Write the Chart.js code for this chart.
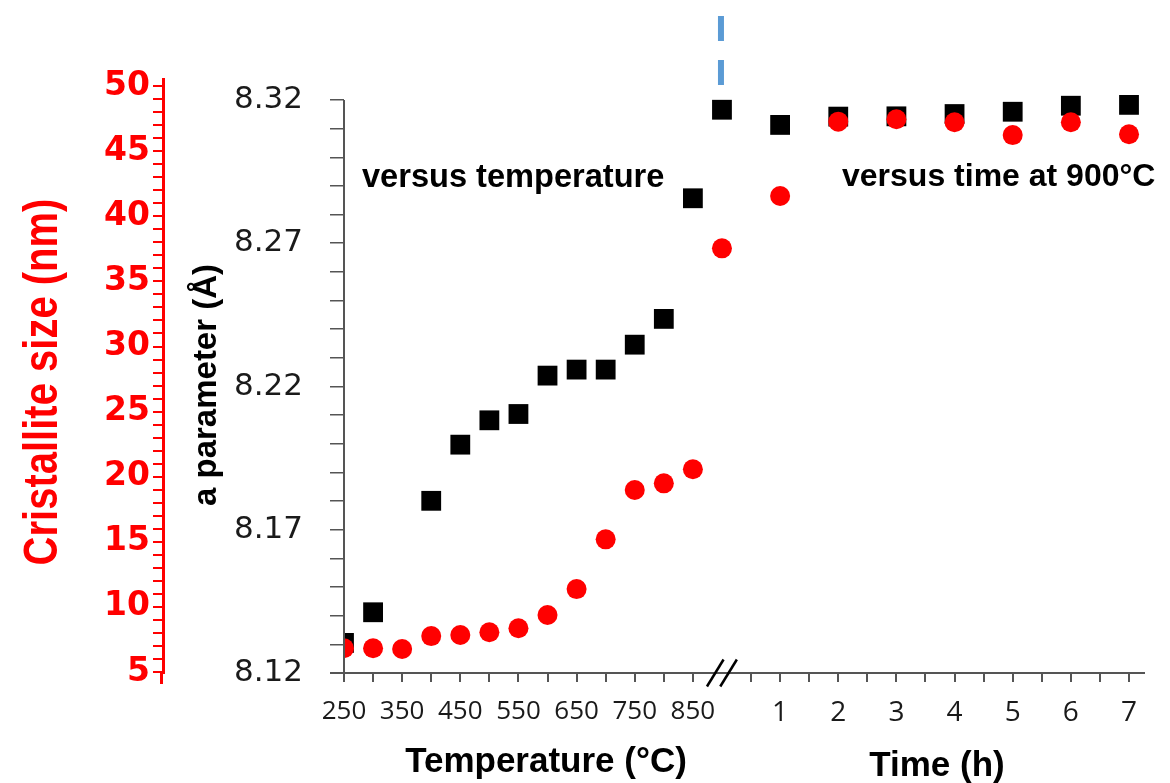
<!DOCTYPE html>
<html><head><meta charset="utf-8">
<script src="https://cdn.jsdelivr.net/npm/chart.js@4.4.0/dist/chart.umd.min.js"></script>
<style>html,body{margin:0;padding:0;background:#fff;}canvas{display:block;}</style>
</head><body>
<canvas id="c" width="1170" height="783"></canvas>
<script>
// ---- data ----
const temperatures   = [250, 300, 350, 400, 450, 500, 550, 600, 650, 700, 750, 800, 850, 900];
const aParamVsTemp   = [8.1305, 8.1412, null, 8.1801, 8.1997, 8.2082, 8.2104, 8.2238, 8.2259, 8.2259, 8.2346, 8.2436, 8.2857, 8.3166];
const sizeVsTemp     = [6.82, 6.82, 6.77, 7.76, 7.84, 8.05, 8.36, 9.38, 11.37, 15.19, 18.98, 19.49, 20.57, 37.54];
const times          = [1, 2, 3, 4, 5, 6, 7];
const aParamVsTime   = [8.3113, 8.3142, 8.3143, 8.3151, 8.3159, 8.3180, 8.3183];
const sizeVsTime     = [41.56, 47.27, 47.45, 47.22, 46.24, 47.22, 46.30];
const tempTickValues = [250, 300, 350, 400, 450, 500, 550, 600, 650, 700, 750, 800, 850];
const tempTickLabels = ['250', '350', '450', '550', '650', '750', '850'];
const timeTickValues = [0.5, 1, 1.5, 2, 2.5, 3, 3.5, 4, 4.5, 5, 5.5, 6, 6.5, 7];
const timeTickLabels = ['1', '2', '3', '4', '5', '6', '7'];
const aTickLabels    = ['8.12', '8.17', '8.22', '8.27', '8.32'];
const sizeTickLabels = ['5', '10', '15', '20', '25', '30', '35', '40', '45', '50'];

// composite x axis: temperature part then time at 900 °C (t = 0 coincides with 900 °C)
const tempPos = T => (T - 250) / 50;
const timePos = t => 13 + 2 * t;

const xTickLabel = new Map();
tempTickValues.forEach(T => xTickLabel.set(tempPos(T), tempTickLabels.includes(String(T)) ? String(T) : ''));
timeTickValues.forEach(t => xTickLabel.set(timePos(t), timeTickLabels.includes(String(t)) ? String(t) : ''));

const aTicks = [];
for (let i = 0; i <= 20; i++) aTicks.push(Math.round((8.12 + i * 0.01) * 100) / 100);
const sizeTicks = [];
for (let v = 5; v <= 50; v++) sizeTicks.push(v);

const black = 'rgba(0,0,0,1)';
const red = '#ff0000';

const decorations = {
  id: 'decorations',
  afterDraw(chart) {
    const ctx = chart.ctx;
    const x = chart.scales.x, y = chart.scales.y, yr = chart.scales.yRed;
    ctx.save();
    // red axis continues a little below the plot
    ctx.strokeStyle = red;
    ctx.lineWidth = 3;
    ctx.beginPath();
    ctx.moveTo(yr.right - 1.5, x.top);
    ctx.lineTo(yr.right - 1.5, x.top + 11);
    ctx.stroke();
    // black y axis line (from 8.32 down to the x axis)
    ctx.strokeStyle = '#555';
    ctx.lineWidth = 2;
    ctx.beginPath();
    ctx.moveTo(y.right, y.getPixelForValue(8.32));
    ctx.lineTo(y.right, x.top);
    ctx.stroke();
    // x axis line
    ctx.beginPath();
    ctx.moveTo(y.right - 14, x.top);
    ctx.lineTo(chart.chartArea.right, x.top);
    ctx.stroke();
    // axis break marks
    const bx = x.getPixelForValue(13);
    ctx.strokeStyle = '#000';
    ctx.lineWidth = 2.5;
    [-6.7, 6.6].forEach(d => {
      ctx.beginPath();
      ctx.moveTo(bx + d - 8.3, x.top + 13.5);
      ctx.lineTo(bx + d + 8.3, x.top - 13.5);
      ctx.stroke();
    });
    // blue dashed separator above 900 °C
    ctx.strokeStyle = '#5b9bd5';
    ctx.lineWidth = 6;
    ctx.setLineDash([25, 19]);
    ctx.beginPath();
    ctx.moveTo(bx - 1, 16);
    ctx.lineTo(bx - 1, 85);
    ctx.stroke();
    ctx.setLineDash([]);
    // texts
    ctx.fillStyle = '#000';
    ctx.textBaseline = 'alphabetic';
    ctx.textAlign = 'left';
    ctx.font = 'bold 32.6px "Liberation Sans", Arial, sans-serif';
    ctx.fillText('versus temperature', 362, 187);
    ctx.font = 'bold 32px "Liberation Sans", Arial, sans-serif';
    ctx.fillText('versus time at 900°C', 842, 186);
    ctx.textAlign = 'center';
    ctx.font = 'bold 35px "Liberation Sans", Arial, sans-serif';
    ctx.fillText('Temperature (°C)', 546, 772);
    ctx.fillText('Time (h)', 937, 776);
    // vertical axis titles
    ctx.save();
    ctx.translate(44, 382);
    ctx.rotate(-Math.PI / 2);
    ctx.scale(1, 1.2);
    ctx.fillStyle = red;
    ctx.textBaseline = 'middle';
    ctx.font = 'bold 40px "Liberation Sans", Arial, sans-serif';
    ctx.fillText('Cristallite size (nm)', 0, 0);
    ctx.restore();
    ctx.save();
    ctx.translate(207, 385);
    ctx.rotate(-Math.PI / 2);
    ctx.fillStyle = '#000';
    ctx.textBaseline = 'middle';
    ctx.font = 'bold 33px "Liberation Sans", Arial, sans-serif';
    ctx.fillText('a parameter (Å)', 0, 0);
    ctx.restore();
    ctx.restore();
  }
};

const bg = {
  id: 'bg',
  beforeDraw(chart) {
    const ctx = chart.ctx;
    ctx.save();
    ctx.fillStyle = '#fff';
    ctx.fillRect(0, 0, chart.width, chart.height);
    ctx.restore();
  }
};

new Chart(document.getElementById('c'), {
  type: 'scatter',
  data: {
    datasets: [
      {
        label: 'Cristallite size',
        yAxisID: 'yRed',
        order: 0,
        data: temperatures.map((T, i) => ({x: tempPos(T), y: sizeVsTemp[i]}))
          .concat(times.map((t, i) => ({x: timePos(t), y: sizeVsTime[i]}))),
        pointStyle: 'circle',
        pointRadius: 10,
        pointBackgroundColor: red,
        pointBorderWidth: 0,
        borderColor: red,
        showLine: false
      },
      {
        label: 'a parameter',
        yAxisID: 'y',
        order: 1,
        data: temperatures.map((T, i) => ({x: tempPos(T), y: aParamVsTemp[i]}))
          .concat(times.map((t, i) => ({x: timePos(t), y: aParamVsTime[i]})))
          .filter(p => p.y !== null),
        pointStyle: 'rect',
        pointRadius: 14,
        pointBackgroundColor: black,
        pointBorderWidth: 0,
        borderColor: black,
        showLine: false
      }
    ]
  },
  options: {
    responsive: false,
    animation: false,
    layout: {padding: {top: 79, right: 25, left: 0, bottom: 0}},
    plugins: {legend: {display: false}, tooltip: {enabled: false}},
    scales: {
      x: {
        type: 'linear',
        position: 'bottom',
        min: 0,
        max: 27.55,
        afterFit: s => { s.height = 110; },
        afterBuildTicks: s => { s.ticks = Array.from(xTickLabel.keys()).sort((a, b) => a - b).map(v => ({value: v})); },
        border: {display: false},
        grid: {drawOnChartArea: false, drawTicks: true, tickLength: 9, color: '#555', lineWidth: 2},
        ticks: {
          autoSkip: false, maxRotation: 0, minRotation: 0, padding: 14,
          color: '#1a1a1a',
          font: c => (c.tick && c.tick.value > 13) ? {family: 'Open Sans', size: 28} : {family: 'Open Sans', size: 26},
          callback: v => xTickLabel.get(v) ?? ''
        }
      },
      y: {
        type: 'linear',
        position: 'left',
        weight: 0,
        min: 8.12,
        max: 8.12 + (673 - 79) / 2865,
        afterFit: s => { s.width = 181; },
        afterBuildTicks: s => { s.ticks = aTicks.map(v => ({value: v})); },
        border: {display: false},
        grid: {drawOnChartArea: false, drawTicks: true, tickLength: 14, color: '#555', lineWidth: 1.5},
        ticks: {
          autoSkip: false, padding: 27, color: '#1a1a1a',
          font: {family: 'DejaVu Sans', size: 31},
          callback: v => aTickLabels.find(l => Math.abs(parseFloat(l) - v) < 1e-6) || ''
        }
      },
      yRed: {
        type: 'linear',
        position: 'left',
        weight: 1,
        min: 5 - 1 / 13.02,
        max: 5 + (672 - 79) / 13.02,
        afterFit: s => { s.width = 163; },
        afterBuildTicks: s => { s.ticks = sizeTicks.map(v => ({value: v})); },
        border: {display: true, color: red, width: 3},
        grid: {drawOnChartArea: false, drawTicks: true, tickLength: 10, color: red, lineWidth: 2},
        ticks: {
          autoSkip: false, padding: 3, color: red,
          font: {family: 'DejaVu Sans', size: 33, weight: 'bold'},
          callback: v => sizeTickLabels.includes(String(v)) ? String(v) : ''
        }
      }
    }
  },
  plugins: [bg, decorations]
});
</script>
</body></html>
